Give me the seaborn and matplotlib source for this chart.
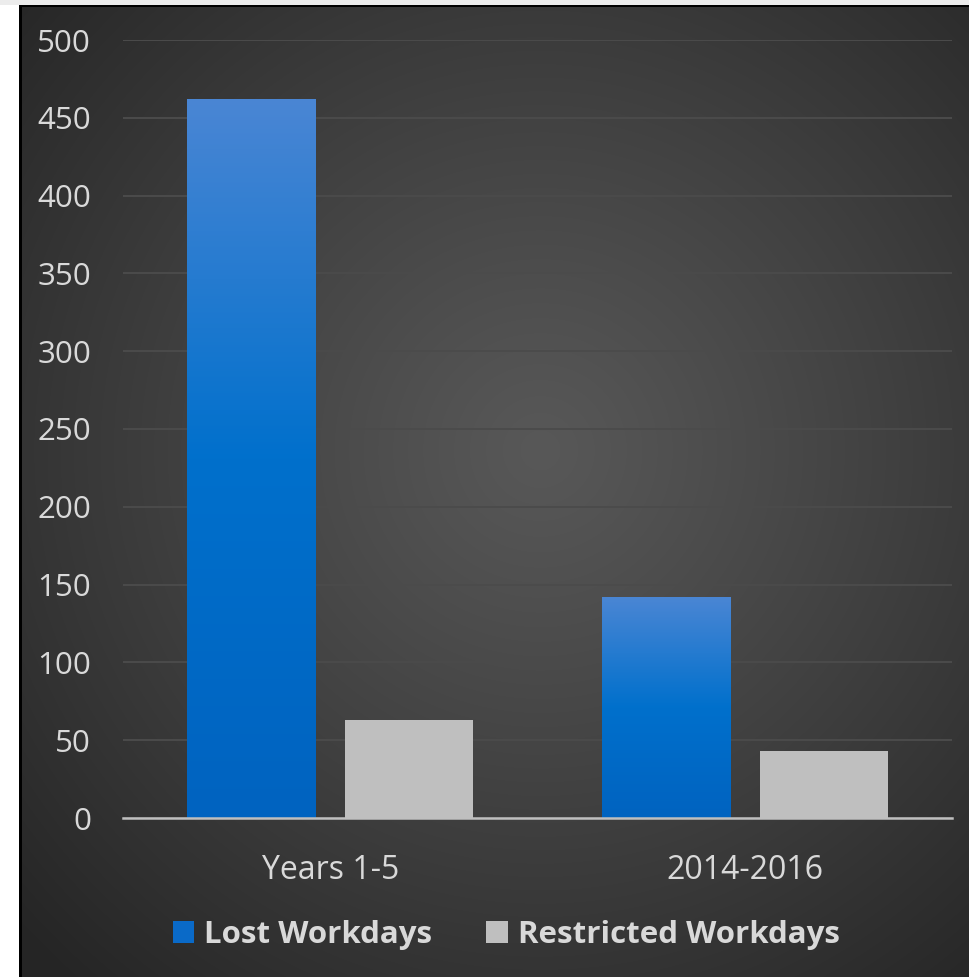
import numpy as np
import pandas as pd
import matplotlib
matplotlib.use("Agg")
import matplotlib.pyplot as plt
import seaborn as sns
from matplotlib.patches import Patch, Rectangle
from matplotlib.colors import to_rgb
from matplotlib import patheffects as pe

# ---- data ----
periods = ["Years 1-5", "2014-2016"]
series = ["Lost Workdays", "Restricted Workdays"]
lost_workdays = [462, 142]
restricted_workdays = [63, 43]
y_ticks = [0, 50, 100, 150, 200, 250, 300, 350, 400, 450, 500]

df = pd.DataFrame({
    "period": periods * 2,
    "days": lost_workdays + restricted_workdays,
    "type": [series[0]] * len(periods) + [series[1]] * len(periods),
})

sns.set_theme(style="white")
plt.rcParams["font.family"] = ["Open Sans", "DejaVu Sans"]

W, H = 969, 977
fig = plt.figure(figsize=(W / 100, H / 100), dpi=100, facecolor="white")

# background panel with radial gradient
bx0, by0 = 21, 6
bg = fig.add_axes([bx0 / W, 0, 1 - bx0 / W, 1 - by0 / H], zorder=-2)
gw, gh = W - bx0, H - by0
yy, xx = np.mgrid[0:gh, 0:gw]
cx, cy = 540 - bx0, 450 - by0
r = np.sqrt((xx - cx) ** 2 + (yy - cy) ** 2)
t = np.clip(r / 700.0, 0, 1) ** 1.1
c_in = np.array(to_rgb("#585858"))
c_out = np.array(to_rgb("#262626"))
img = c_in[None, None, :] * (1 - t[..., None]) + c_out[None, None, :] * t[..., None]
bg.imshow(img, aspect="auto", extent=[0, 1, 0, 1], origin="upper")
bg.set_axis_off()
# black border line
fig.patches.append(Rectangle((19 / W, 0), 2.5 / W, 1 - 4.5 / H, transform=fig.transFigure,
                             facecolor="black", edgecolor="none", zorder=-1))
fig.patches.append(Rectangle((19 / W, 1 - 7 / H), 1 - 19 / W, 2.5 / H, transform=fig.transFigure,
                             facecolor="black", edgecolor="none", zorder=-1))
fig.patches.append(Rectangle((0, 1 - 4.5 / H), 1, 4.5 / H, transform=fig.transFigure,
                             facecolor="#ececec", edgecolor="none", zorder=-1))

# main axes
ax_l, ax_r, ax_b, ax_t = 123, 952, 818, 40
ax = fig.add_axes([ax_l / W, 1 - ax_b / H, (ax_r - ax_l) / W, (ax_b - ax_t) / H])
ax.set_facecolor("none")

palette = {series[0]: "#0068c6", series[1]: "#bfbfbf"}
sns.barplot(data=df, x="period", y="days", hue="type", hue_order=series, order=periods,
            palette=palette, width=0.762, gap=0.189, saturation=1, ax=ax,
            legend=False, edgecolor="none", linewidth=0, zorder=3)

ax.set_ylim(0, 500)
ax.set_xlim(-0.5, len(periods) - 0.5)
ax.set_yticks(y_ticks)
ax.yaxis.grid(True, color="#4b4b4b", linewidth=1.4, zorder=0)
ax.xaxis.grid(False)
for s in ["left", "right", "top"]:
    ax.spines[s].set_visible(False)
ax.spines["bottom"].set_color("#bfbfbf")
ax.spines["bottom"].set_linewidth(1.8)
ax.spines["bottom"].set_zorder(5)
ax.tick_params(axis="y", length=0, pad=23, labelsize=22.5, labelcolor="#d9d9d9")
ax.tick_params(axis="x", length=0, pad=26, labelsize=23, labelcolor="#d9d9d9")
ax.set_xlabel("")
ax.set_ylabel("")

# gradient on the blue bars
grad_top = np.array(to_rgb("#4a86d4"))
grad_mid = np.array(to_rgb("#0070cc"))
grad_bot = np.array(to_rgb("#0063c0"))
n = 256
s = np.linspace(0, 1, n)  # 0 top -> 1 bottom
cols = np.empty((n, 1, 3))
for i, v in enumerate(s):
    if v < 0.5:
        k = v / 0.5
        cols[i, 0] = grad_top * (1 - k) + grad_mid * k
    else:
        k = (v - 0.5) / 0.5
        cols[i, 0] = grad_mid * (1 - k) + grad_bot * k

for p in ax.patches:
    x0, y0 = p.get_x(), p.get_y()
    w, h = p.get_width(), p.get_height()
    if h <= 0:
        continue
    p.set_path_effects([pe.SimplePatchShadow(offset=(0, 0), shadow_rgbFace="#1a1a1a", alpha=0.35,
                                             rho=0.5), pe.Normal()])
    fc = p.get_facecolor()
    if fc[0] < 0.2:
        im = ax.imshow(cols, extent=[x0, x0 + w, y0, y0 + h], aspect="auto",
                       origin="upper", zorder=4, interpolation="bilinear")
        im.set_clip_path(p)

ax.set_ylim(0, 500)
ax.set_xlim(-0.5, len(periods) - 0.5)
ax.set_aspect("auto")

# legend
handles = [Patch(facecolor="#0a6ac8", edgecolor="none", label=series[0]),
           Patch(facecolor="#bfbfbf", edgecolor="none", label=series[1])]
leg = fig.legend(handles=handles, loc="center", bbox_to_anchor=(506 / W, 1 - 935 / H),
                 ncol=2, frameon=False, handlelength=0.7, handleheight=0.7,
                 handletextpad=0.32, columnspacing=1.7,
                 prop={"family": ["Open Sans", "DejaVu Sans"], "weight": "bold", "size": 22.5})
for txt in leg.get_texts():
    txt.set_color("#d9d9d9")

fig.savefig("out.png", dpi=100, facecolor="white")
